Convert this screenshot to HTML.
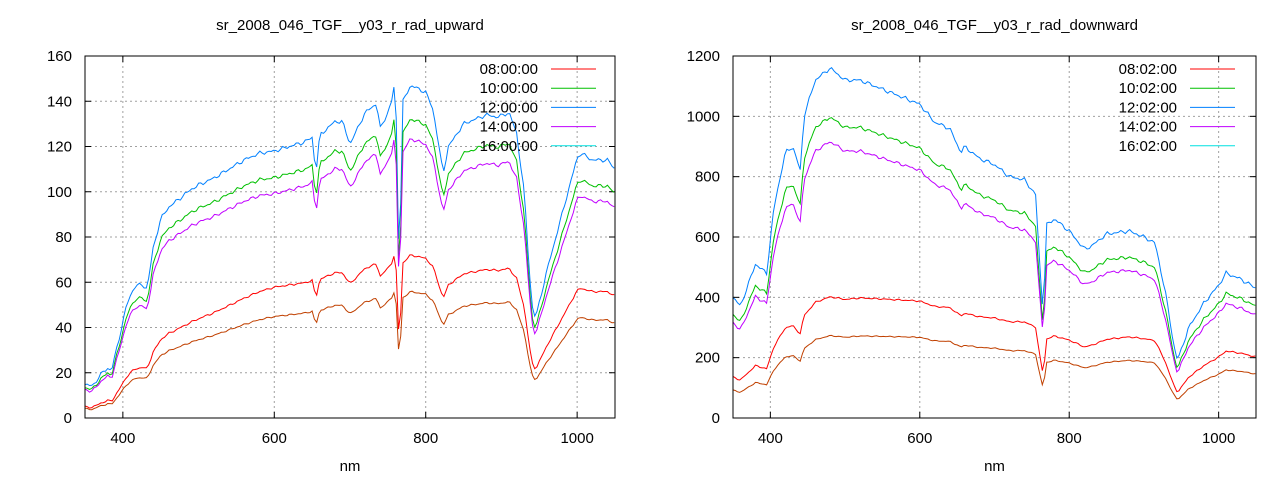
<!DOCTYPE html>
<html><head><meta charset="utf-8"><style>
html,body{margin:0;padding:0;background:#fff}
svg{display:block;font-family:"Liberation Sans",sans-serif}
</style></head><body>
<svg id="s" width="1280" height="480" xmlns="http://www.w3.org/2000/svg"></svg>
<script>
const S=document.getElementById('s');let h='';
function interp(pts,x){for(let i=0;i<pts.length-1;i++){if(x>=pts[i][0]&&x<=pts[i+1][0]){const t=(x-pts[i][0])/(pts[i+1][0]-pts[i][0]);return pts[i][1]+t*(pts[i+1][1]-pts[i][1]);}}return pts[pts.length-1][1];}
const L=[[350,15],[360,14],[370,19],[380,22],[385,21],[395,35],[405,50],[415,58],[425,59],[432,57],[440,75],[450,88],[460,93],[475,97],[490,101],[500,103],[520,106],[540,110],[560,114],[580,117],[600,118],[620,120],[640,122],[650,124],[655,108],[660,125],[680,131],[690,131],[700,121],[720,135],[735,139],[740,128],[750,135],[755,140],[758,146],[760,145],[762,120],[764,80],[767,95],[770,140],[780,147],[800,144],[810,136],[823,108],[830,120],[850,130],[880,134],[895,133],[910,135],[920,126],[930,100],[940,50],[945,44],[960,65],[980,90],[1000,115],[1005,117],[1020,114],[1040,114],[1050,110]];
const R=[[350,400],[360,370],[380,510],[395,480],[405,700],[420,880],[430,900],[440,820],[445,1000],[460,1120],[480,1160],[500,1120],[520,1120],[540,1100],[560,1080],[580,1060],[600,1040],[620,980],[640,960],[655,880],[660,900],[680,860],[700,840],[720,800],[740,790],[755,740],[762,450],[765,350],[770,640],[780,660],[800,620],[820,560],[830,570],[850,610],[880,620],[900,600],[915,580],[930,400],[940,240],[945,190],[960,300],[980,380],[1000,440],[1010,480],[1030,460],[1050,430]];
function plot(x0,x1,y0,y1,ymax,ystep,pts,series,title,labels,lx){
 const X=v=>x0+(v-350)/700*(x1-x0), Y=v=>y1-v/ymax*(y1-y0);
 for(let v=400;v<=1000;v+=200){h+=`<line x1="${X(v)}" y1="${y0}" x2="${X(v)}" y2="${y1}" stroke="#a0a0a0" stroke-dasharray="2,3"/>`;
  h+=`<line x1="${X(v)}" y1="${y1}" x2="${X(v)}" y2="${y1-6}" stroke="#000"/><line x1="${X(v)}" y1="${y0}" x2="${X(v)}" y2="${y0+6}" stroke="#000"/>`;
  h+=`<text x="${X(v)}" y="${y1+25}" font-size="15" text-anchor="middle">${v}</text>`;}
 for(let v=0;v<=ymax;v+=ystep){const y=Y(v);if(v>0&&v<ymax)h+=`<line x1="${x0}" y1="${y}" x2="${x1}" y2="${y}" stroke="#a0a0a0" stroke-dasharray="2,3"/>`;
  h+=`<line x1="${x0}" y1="${y}" x2="${x0+6}" y2="${y}" stroke="#000"/><line x1="${x1}" y1="${y}" x2="${x1-6}" y2="${y}" stroke="#000"/>`;
  h+=`<text x="${x0-13}" y="${y+5}" font-size="15" text-anchor="end">${v}</text>`;}
 series.forEach((s,k)=>{let p=[];for(let nm=350;nm<=1050;nm+=3){let b=interp(pts,nm);let f=s.f(nm);let v=b*f;let j=(Math.sin(nm*1.7+k)*0.5+Math.sin(nm*0.63)*0.5)*ymax*0.006*(s.f(600));v+=j;p.push(X(nm).toFixed(1)+','+Y(Math.max(v,0)).toFixed(1));}
  h+=`<polyline points="${p.join(' ')}" fill="none" stroke="${s.c}" stroke-width="1"/>`;});
 h+=`<rect x="${x0}" y="${y0}" width="${x1-x0}" height="${y1-y0}" fill="none" stroke="#000"/>`;
 h+=`<text x="${(x0+x1)/2}" y="30" font-size="15" text-anchor="middle">${title}</text>`;
 h+=`<text x="${(x0+x1)/2}" y="471" font-size="15" text-anchor="middle">nm</text>`;
 const lc=['#ff0000','#00c000','#0080ff','#c000ff','#00e0e0'];
 labels.forEach((t,i)=>{const y=69+i*19.2;h+=`<text x="${lx}" y="${y+5}" font-size="15" text-anchor="end">${t}</text><line x1="${lx+13}" y1="${y}" x2="${lx+58}" y2="${y}" stroke="${lc[i]}"/>`;});
}
const serL=[{c:'#0080ff',f:n=>1},{c:'#00c000',f:n=>0.9},{c:'#c000ff',f:n=>0.84},{c:'#ff0000',f:n=>0.33+0.16*Math.min(1,(n-350)/250)},{c:'#c04000',f:n=>0.27+0.11*Math.min(1,(n-350)/250)}];
const serR=[{c:'#0080ff',f:n=>1},{c:'#00c000',f:n=>0.86},{c:'#c000ff',f:n=>0.79},{c:'#ff0000',f:n=>0.34+0.12*Math.max(0,(n-450)/550)},{c:'#c04000',f:n=>0.23+0.1*Math.max(0,(n-450)/550)}];
plot(85,615,56,418,160,20,L,serL,'sr_2008_046_TGF__y03_r_rad_upward',['08:00:00','10:00:00','12:00:00','14:00:00','16:00:00'],538);
plot(733,1256,56,418,1200,200,R,serR,'sr_2008_046_TGF__y03_r_rad_downward',['08:02:00','10:02:00','12:02:00','14:02:00','16:02:00'],1177);
S.innerHTML=h;
</script>
</body></html>
